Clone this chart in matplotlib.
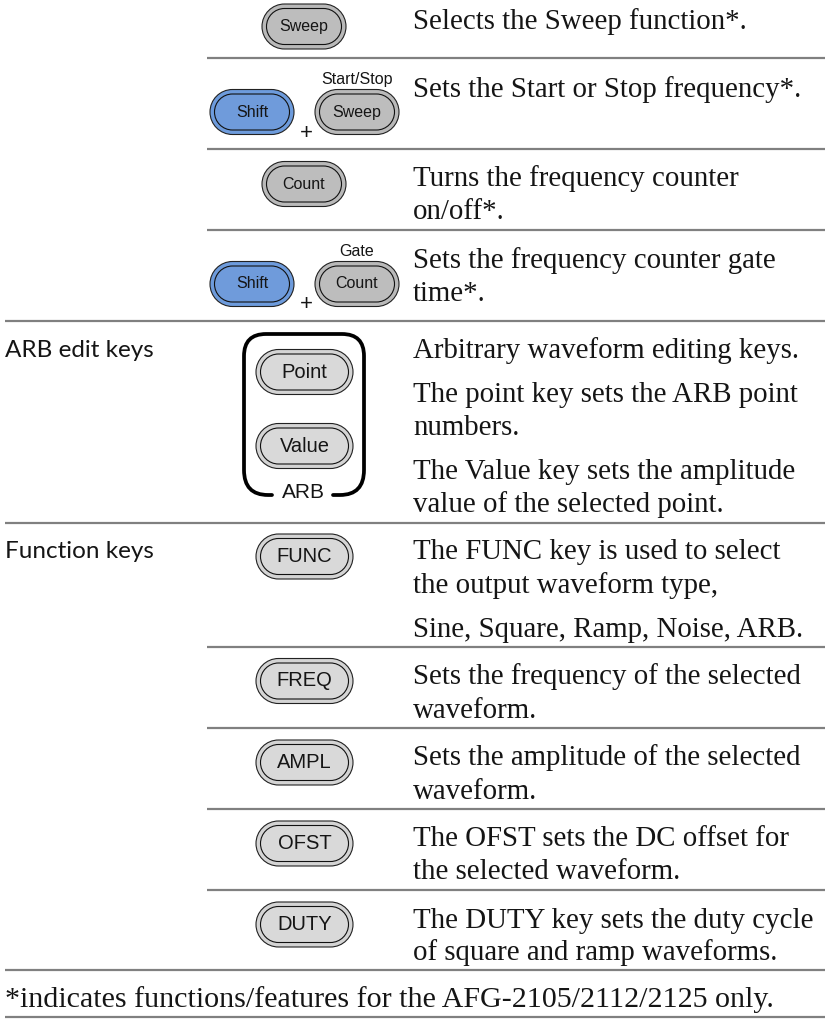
import matplotlib
matplotlib.use("Agg")
import matplotlib.pyplot as plt
from matplotlib.patches import PathPatch
from matplotlib.path import Path

# --- 1. TEXT AND VALUES ---
KEY_LABELS = ["Sweep", "Shift", "Sweep", "Count", "Shift", "Count", "Point", "Value",
              "FUNC", "FREQ", "AMPL", "OFST", "DUTY"]
KEY_X = [304, 252, 357, 304, 252, 357, 304.5, 304.5, 304.5, 304.5, 304.5, 304.5, 304.5]
KEY_Y = [26.5, 112, 112, 184, 284, 284, 372, 446, 556.5, 681, 762.5, 843.5, 924.5]
KEY_W = [84, 84, 84, 84, 84, 84, 97, 97, 97, 97, 97, 97, 97]
KEY_KIND = ["dark", "blue", "dark", "dark", "blue", "dark", "light", "light",
            "light", "light", "light", "light", "light"]

TOP_LABELS = ["Start/Stop", "Gate"]
TOP_X = [357, 357]
TOP_Y = [79, 251]

PLUS_X = [306.5, 306.5]
PLUS_Y = [133, 305]

DESC_LINES = ["Selects the Sweep function*.", "Sets the Start or Stop frequency*.",
              "Turns the frequency counter", "on/off*.",
              "Sets the frequency counter gate", "time*.",
              "Arbitrary waveform editing keys.", "The point key sets the ARB point", "numbers.",
              "The Value key sets the amplitude", "value of the selected point.",
              "The FUNC key is used to select", "the output waveform type,",
              "Sine, Square, Ramp, Noise, ARB.",
              "Sets the frequency of the selected", "waveform.",
              "Sets the amplitude of the selected", "waveform.",
              "The OFST sets the DC offset for", "the selected waveform.",
              "The DUTY key sets the duty cycle", "of square and ramp waveforms."]
DESC_Y = [29, 97, 186, 219, 268, 301, 358, 402, 435, 479, 512,
          559, 593, 637, 684, 718, 765, 799, 846, 879, 928, 960]

SECTION_LABELS = ["ARB edit keys", "Function keys"]
SECTION_Y = [357, 558]

FOOTNOTE = "*indicates functions/features for the AFG-2105/2112/2125 only."

RULE_Y = [58, 149, 230, 321, 523, 647, 728, 809, 890, 970, 1017]
RULE_X0 = [207, 207, 207, 5, 5, 207, 207, 207, 207, 5, 5]

# --- 2. STYLES ---
FILLS = {"dark": ("#b9b9b9", "#bdbdbd"), "blue": ("#6d9bdc", "#6f9bdb"), "light": ("#d4d4d4", "#d9d9d9")}
SERIF = "Liberation Serif"
SANS = "Liberation Sans"
TEXT_COLOR = "#151515"


def pill(x0, x1, y0, y1):
    # capsule outline, the ends drawn as two cubic quarter arcs each
    r = (y1 - y0) / 2
    k = 0.5523 * r
    ym = (y0 + y1) / 2
    verts = [(x0 + r, y0), (x1 - r, y0),
             (x1 - r + k, y0), (x1, ym - k), (x1, ym),
             (x1, ym + k), (x1 - r + k, y1), (x1 - r, y1),
             (x0 + r, y1),
             (x0 + r - k, y1), (x0, ym + k), (x0, ym),
             (x0, ym - k), (x0 + r - k, y0), (x0 + r, y0),
             (x0 + r, y0)]
    codes = [Path.MOVETO, Path.LINETO] + [Path.CURVE4] * 6 + [Path.LINETO] + [Path.CURVE4] * 6 + [Path.CLOSEPOLY]
    return Path(verts, codes)


def draw_key(ax, label, cx, cy, w, kind):
    h = 45
    outer, inner = FILLS[kind]
    ax.add_patch(PathPatch(pill(cx - w / 2, cx + w / 2, cy - h / 2, cy + h / 2),
                           fc=outer, ec="#222222", lw=0.8))
    ax.add_patch(PathPatch(pill(cx - w / 2 + 4.5, cx + w / 2 - 4.5, cy - h / 2 + 4.5, cy + h / 2 - 4.5),
                           fc=inner, ec="#111111", lw=0.8))
    size = 11.5 if kind != "light" else 14.5
    ax.text(cx, cy, label, fontsize=size, family=SANS, color=TEXT_COLOR, ha="center", va="center")


fig = plt.figure(figsize=(8.25, 10.19), dpi=100)
ax = fig.add_axes([0, 0, 1, 1])
ax.set_xlim(0, 825)
ax.set_ylim(1019, 0)
ax.axis("off")

for y, x0 in zip(RULE_Y, RULE_X0):
    ax.plot([x0, 825], [y, y], color="#808080", lw=1.6, solid_capstyle="butt")

for label, cx, cy, w, kind in zip(KEY_LABELS, KEY_X, KEY_Y, KEY_W, KEY_KIND):
    draw_key(ax, label, cx, cy, w, kind)

for label, x, y in zip(TOP_LABELS, TOP_X, TOP_Y):
    ax.text(x, y, label, fontsize=11.5, family=SANS, color=TEXT_COLOR, ha="center", va="center")

for x, y in zip(PLUS_X, PLUS_Y):
    ax.text(x, y, "+", fontsize=16, family=SANS, color=TEXT_COLOR, ha="center", va="center")

# ARB bracket, open at the bottom for its label
verts = [(272, 495), (268, 495), (244, 495), (244, 470), (244, 356), (244, 334), (266, 334),
         (342, 334), (364, 334), (364, 356), (364, 470), (364, 495), (340, 495), (333, 495)]
codes = [Path.MOVETO, Path.LINETO, Path.CURVE3, Path.CURVE3, Path.LINETO, Path.CURVE3, Path.CURVE3,
         Path.LINETO, Path.CURVE3, Path.CURVE3, Path.LINETO, Path.CURVE3, Path.CURVE3, Path.LINETO]
ax.add_patch(PathPatch(Path(verts, codes), fc="none", ec="black", lw=2.7, capstyle="round"))
ax.text(303, 493, "ARB", fontsize=15, family=SANS, color=TEXT_COLOR, ha="center", va="center")

for line, y in zip(DESC_LINES, DESC_Y):
    ax.text(413, y, line, fontsize=20.8, family=SERIF, color=TEXT_COLOR, ha="left", va="baseline")

for label, y in zip(SECTION_LABELS, SECTION_Y):
    ax.text(5, y, label, fontsize=17.5, family="Lato", color=TEXT_COLOR, ha="left", va="baseline")

ax.text(5, 1007, FOOTNOTE, fontsize=21.6, family=SERIF, color=TEXT_COLOR, ha="left", va="baseline")

fig.savefig("out.png", dpi=100)
